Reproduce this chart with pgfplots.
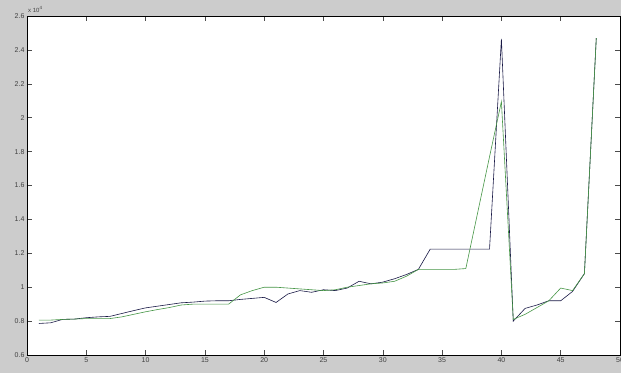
\documentclass[border=0pt]{standalone}
\usepackage{pgfplots}
\pgfplotsset{compat=1.18}
\usepackage{pgfplotstable}
\usepackage{fontspec}
\setmainfont{Liberation Sans}
\definecolor{figgray}{RGB}{204,204,204}
\definecolor{darkser}{RGB}{25,25,70}
\definecolor{greenser}{RGB}{70,150,70}
\pgfplotstableread{
x d g
1 0.786 0.806
2 0.790 0.806
3 0.810 0.810
4 0.812 0.812
5 0.820 0.815
6 0.825 0.815
7 0.828 0.815
8 0.845 0.825
9 0.862 0.840
10 0.878 0.855
11 0.888 0.868
12 0.898 0.880
13 0.908 0.895
14 0.912 0.900
15 0.918 0.900
16 0.920 0.900
17 0.920 0.900
18 0.928 0.955
19 0.934 0.980
20 0.940 1.000
21 0.910 1.000
22 0.960 0.995
23 0.980 0.990
24 0.970 0.985
25 0.985 0.980
26 0.980 0.985
27 0.995 1.000
28 1.035 1.010
29 1.020 1.020
30 1.030 1.025
31 1.050 1.035
32 1.075 1.065
33 1.105 1.105
34 1.225 1.105
35 1.225 1.105
36 1.225 1.105
37 1.225 1.110
38 1.225 1.440
39 1.225 1.770
40 2.465 2.095
41 0.800 0.810
42 0.875 0.840
43 0.895 0.880
44 0.920 0.920
45 0.920 0.995
46 0.975 0.980
47 1.080 1.080
48 2.470 2.470
}\datatable
\begin{document}
\begin{tikzpicture}
\fill[figgray] (-27pt,-18pt) rectangle (594pt,355pt);
\begin{axis}[
  at={(0pt,0pt)}, anchor=south west,
  scale only axis, width=593pt, height=339pt,
  xmin=0, xmax=50, ymin=0.6, ymax=2.6,
  xtick={0,5,...,50},
  ytick={0.6,0.8,1,1.2,1.4,1.6,1.8,2,2.2,2.4,2.6},
  yticklabels={0.6,0.8,1,1.2,1.4,1.6,1.8,2,2.2,2.4,2.6},
  xticklabel style={font=\fontsize{7}{8}\selectfont, text=black!75, yshift=1pt},
  yticklabel style={font=\fontsize{7}{8}\selectfont, text=black!75, xshift=1pt},
  /pgf/number format/assume math mode=true,
  tick align=inside, major tick length=5pt,
  tick style={black!70, line width=0.5pt},
  axis line style={black, line width=0.6pt},
  axis background/.style={fill=white},
  scaled y ticks=false,
  clip=true,
]
\addplot[darkser, line width=0.6pt] table[x=x, y=d] {\datatable};
\addplot[greenser, line width=0.6pt] table[x=x, y=g] {\datatable};
\end{axis}
\node[anchor=south west, inner sep=0pt, font=\fontsize{6}{7}\selectfont, text=black!75] at (1pt,342pt) {x 10\raisebox{3pt}{\fontsize{4.5}{5}\selectfont 4}};
\pgfresetboundingbox
\useasboundingbox (-27pt,-18pt) rectangle (594pt,355pt);
\end{tikzpicture}
\end{document}
